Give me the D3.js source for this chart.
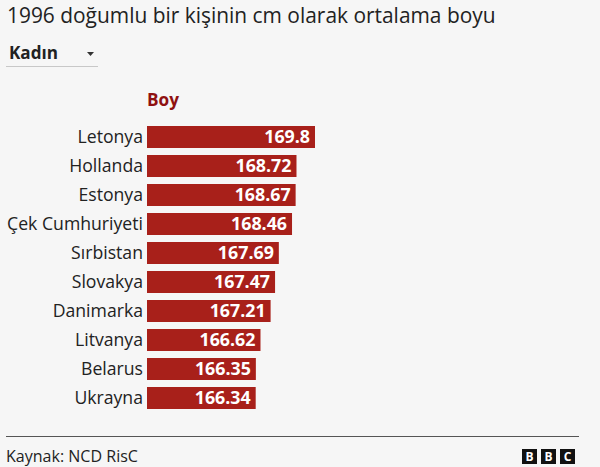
<!DOCTYPE html>
<html>
<head>
<meta charset="utf-8">
<script src="https://cdn.jsdelivr.net/npm/d3@7"></script>
<style>
  html, body { margin: 0; padding: 0; background: #f6f6f6; }
  svg { display: block; }
  text { font-family: "Open Sans", "Noto Sans", sans-serif; }
</style>
</head>
<body>
<svg id="chart" width="600" height="467"></svg>
<script>
const titleText = "1996 doğumlu bir kişinin cm olarak ortalama boyu";
const dropdownLabel = "Kadın";
const seriesName = "Boy";
const sourceText = "Kaynak: NCD RisC";
const countries = ["Letonya", "Hollanda", "Estonya", "Çek Cumhuriyeti", "Sırbistan", "Slovakya", "Danimarka", "Litvanya", "Belarus", "Ukrayna"];
const values = [169.8, 168.72, 168.67, 168.46, 167.69, 167.47, 167.21, 166.62, 166.35, 166.34];
const valueLabels = ["169.8", "168.72", "168.67", "168.46", "167.69", "167.47", "167.21", "166.62", "166.35", "166.34"];

const data = countries.map((c, i) => ({ country: c, value: values[i], label: valueLabels[i] }));

const svg = d3.select("#chart");
svg.append("rect").attr("width", 600).attr("height", 467).attr("fill", "#f6f6f6");

function fitWidth(sel, target) {
  const node = sel.node();
  const fs = parseFloat(sel.attr("font-size"));
  const w = node.getComputedTextLength();
  if (w > 0) sel.attr("font-size", (fs * target / w).toFixed(2));
}
function fitGroup(sel, target) {
  const fs = parseFloat(sel.attr("font-size"));
  const w = d3.max(sel.nodes(), n => n.getComputedTextLength());
  if (w > 0) sel.attr("font-size", (fs * target / w).toFixed(2));
}

// Title
const title = svg.append("text")
  .attr("x", 7).attr("y", 23)
  .attr("font-size", 20).attr("fill", "#222")
  .text(titleText);
fitWidth(title, 489);

// Dropdown
const dd = svg.append("text")
  .attr("x", 9).attr("y", 59)
  .attr("font-size", 16).attr("font-weight", "bold").attr("fill", "#222")
  .text(dropdownLabel);
fitWidth(dd, 49);
svg.append("path")
  .attr("d", "M87,52 L94,52 L90.5,56 Z")
  .attr("fill", "#333");
svg.append("line")
  .attr("x1", 6).attr("x2", 98).attr("y1", 66.5).attr("y2", 66.5)
  .attr("stroke", "#c8c8c8").attr("stroke-width", 1);

// Scales
const x = d3.scaleLinear().domain([160, 169.8]).range([147, 315]);
const y = d3.scaleBand().domain(countries).range([122.5, 412.5])
  .paddingInner(7 / 29).paddingOuter(3.5 / 29);

// Series header
const hdr = svg.append("text")
  .attr("x", 147).attr("y", 106)
  .attr("font-size", 16).attr("font-weight", "bold").attr("fill", "#8f1111")
  .text(seriesName);
fitWidth(hdr, 32);

// Bars
svg.append("g").selectAll("rect").data(data).join("rect")
  .attr("x", x(160))
  .attr("y", d => y(d.country))
  .attr("width", d => x(d.value) - x(160))
  .attr("height", y.bandwidth())
  .attr("fill", "#a8201a");

// Value labels
const vl = svg.append("g").selectAll("text").data(data).join("text")
  .attr("x", d => x(d.value) - 5)
  .attr("y", d => y(d.country) + y.bandwidth() / 2)
  .attr("dy", "0.36em")
  .attr("text-anchor", "end")
  .attr("font-size", 17).attr("font-weight", "bold").attr("fill", "#fff")
  .text(d => d.label);
fitGroup(vl, 56);

// Country axis
const axis = svg.append("g")
  .attr("transform", `translate(${x(160)},0)`)
  .call(d3.axisLeft(y).tickSize(0).tickPadding(4));
axis.select(".domain").remove();
axis.attr("font-size", null).attr("font-family", null);
const tl = axis.selectAll("text")
  .attr("font-size", 17)
  .attr("fill", "#222")
  .style("font-family", "\"Open Sans\", \"Noto Sans\", sans-serif");
fitGroup(tl, 136);

// Footer
svg.append("line")
  .attr("x1", 6).attr("x2", 579).attr("y1", 436.5).attr("y2", 436.5)
  .attr("stroke", "#555").attr("stroke-width", 1);
const src = svg.append("text")
  .attr("x", 6).attr("y", 462)
  .attr("font-size", 14).attr("fill", "#222")
  .text(sourceText);
fitWidth(src, 132);

const logoLetters = ["B", "B", "C"];
const logo = svg.append("g").selectAll("g").data(logoLetters).join("g")
  .attr("transform", (d, i) => `translate(${522 + i * 19},449)`);
logo.append("rect").attr("width", 15).attr("height", 15).attr("fill", "#111");
logo.append("text")
  .attr("x", 7.5).attr("y", 12)
  .attr("text-anchor", "middle")
  .attr("font-size", 12).attr("font-weight", "bold").attr("fill", "#fff")
  .text(d => d);
</script>
</body>
</html>
